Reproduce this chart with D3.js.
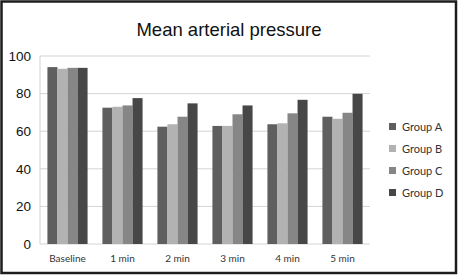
<!DOCTYPE html>
<html>
<head>
<meta charset="utf-8">
<script src="https://cdn.jsdelivr.net/npm/d3@7"></script>
<style>
  body { margin: 0; background: #fff; }
  svg { display: block; }
</style>
</head>
<body>
<div id="chart"></div>
<script>
let categories = ['Baseline', '1 min', '2 min', '3 min', '4 min', '5 min'];
let groups = ['Group A', 'Group B', 'Group C', 'Group D'];
let groupA = [94.1, 72.5, 62.4, 62.8, 63.7, 67.7];
let groupB = [93.2, 73.0, 63.7, 62.8, 64.2, 66.6];
let groupC = [93.7, 73.7, 67.7, 69.0, 69.5, 69.8];
let groupD = [93.7, 77.6, 74.8, 73.7, 76.7, 79.9];
let yTicks = [0, 20, 40, 60, 80, 100];
let colors = ['#5f5f5f', '#b2b2b2', '#868686', '#474747'];

let series = [groupA, groupB, groupC, groupD];

let width = 463;
let height = 276;
let margin = {top: 56, right: 93, bottom: 32, left: 40};

let svg = d3.select('#chart').append('svg')
    .attr('width', width)
    .attr('height', height);

svg.append('rect')
    .attr('width', width).attr('height', height)
    .attr('fill', '#fff');

// frame round the picture
svg.append('rect')
    .attr('x', 1.5).attr('y', 1.5)
    .attr('width', 454.5).attr('height', 271.5)
    .attr('fill', 'none')
    .attr('stroke', '#1c1c1c')
    .attr('stroke-width', 2.5);

let plotW = width - margin.left - margin.right;
let plotH = height - margin.top - margin.bottom;

let g = svg.append('g')
    .attr('transform', `translate(${margin.left},${margin.top})`);

let x = d3.scaleBand()
    .domain(categories)
    .range([0, plotW])
    .paddingInner(0.27)
    .paddingOuter(0.135);

let xg = d3.scaleBand()
    .domain(groups)
    .range([0, x.bandwidth()]);

let y = d3.scaleLinear()
    .domain([0, 100])
    .range([plotH, 0]);

// gridlines
g.append('g')
    .selectAll('line')
    .data(yTicks)
    .join('line')
    .attr('x1', 0).attr('x2', plotW)
    .attr('y1', d => y(d)).attr('y2', d => y(d))
    .attr('stroke', '#d4d4d4')
    .attr('stroke-width', 1);

// y axis line
g.append('line')
    .attr('x1', 0).attr('x2', 0)
    .attr('y1', 0).attr('y2', plotH)
    .attr('stroke', '#d0d0d0');

let yAxis = g.append('g')
    .call(d3.axisLeft(y).tickValues(yTicks).tickSize(0).tickPadding(9));
yAxis.select('.domain').remove();
yAxis.selectAll('text')
    .attr('font-family', 'Liberation Sans, Arial, sans-serif')
    .attr('font-size', 13.5)
    .attr('fill', '#111');

let xAxis = g.append('g')
    .attr('transform', `translate(0,${plotH})`)
    .call(d3.axisBottom(x).tickSize(0).tickPadding(11));
xAxis.select('.domain').remove();
xAxis.selectAll('text')
    .attr('font-family', 'Lato, "Open Sans", sans-serif')
    .attr('font-size', 10)
    .attr('fill', '#333');

// bars
g.append('g')
    .selectAll('g')
    .data(series)
    .join('g')
    .attr('fill', (d, i) => colors[i])
    .selectAll('rect')
    .data((d, i) => d.map((v, j) => ({cat: categories[j], grp: groups[i], value: v})))
    .join('rect')
    .attr('x', d => x(d.cat) + xg(d.grp))
    .attr('y', d => y(d.value))
    .attr('width', xg.bandwidth())
    .attr('height', d => plotH - y(d.value));

// title
svg.append('text')
    .attr('x', 229)
    .attr('y', 36)
    .attr('text-anchor', 'middle')
    .attr('font-family', 'Liberation Sans, Arial, sans-serif')
    .attr('font-size', 18.5)
    .attr('fill', '#111')
    .text('Mean arterial pressure');

// legend
let legend = svg.append('g')
    .attr('transform', 'translate(389,127)');

let items = legend.selectAll('g')
    .data(groups)
    .join('g')
    .attr('transform', (d, i) => `translate(0,${i * 22})`);

items.append('rect')
    .attr('x', 0).attr('y', -4)
    .attr('width', 7).attr('height', 7)
    .attr('fill', (d, i) => colors[i]);

items.append('text')
    .attr('x', 13)
    .attr('y', 4)
    .attr('font-family', 'Lato, "Open Sans", sans-serif')
    .attr('font-size', 11)
    .attr('fill', '#333')
    .text(d => d);
</script>
</body>
</html>
